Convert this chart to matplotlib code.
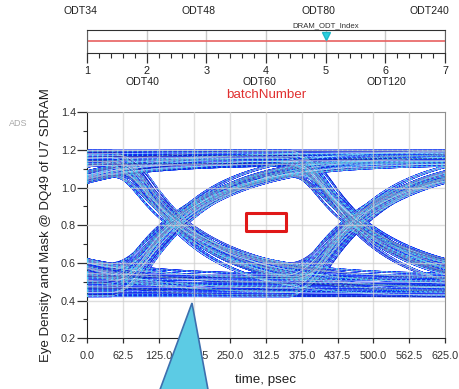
import numpy as np
import matplotlib
matplotlib.use("Agg")
import matplotlib.pyplot as plt
from matplotlib.patches import Rectangle, Polygon
from matplotlib.ticker import MultipleLocator, FormatStrFormatter

plt.rcParams['font.family'] = ['Liberation Sans', 'DejaVu Sans']

# ---- sweep slider (batchNumber -> ODT setting) ----
batch_numbers = [1, 2, 3, 4, 5, 6, 7]
odt_names = ["ODT34", "ODT40", "ODT48", "ODT60", "ODT80", "ODT120", "ODT240"]
odt_label_x_px = [80, 142, 199, 259, 318, 386, 429]
selected_batch = 5

# ---- eye diagram data ----
unit_interval_ps = 312.5
time_ticks = [0.0, 62.5, 125.0, 187.5, 250.0, 312.5, 375.0, 437.5, 500.0, 562.5, 625.0]
volt_ticks = [0.2, 0.4, 0.6, 0.8, 1.0, 1.2, 1.4]

# DQ49 bit stream used to build the eye
dq_bits = [0, 1, 1, 0, 1, 0, 0, 0, 1, 1, 1, 0, 0, 1, 0, 1, 1, 1, 1, 0, 1, 0, 1, 0,
           0, 1, 1, 0, 0, 0, 0, 1, 0, 1, 1, 0, 1, 1, 1, 0, 0, 1, 1, 1, 1, 1, 0, 0,
           0, 1, 0, 0, 1, 0, 1, 0, 1, 1, 0, 0, 1, 0, 0, 0, 1, 1, 0, 1]
# per-lane settled levels (V), edge time constants (ps) and timing skew (ps)
high_levels = [1.198, 1.19, 1.182, 1.172, 1.163, 1.155, 1.146, 1.138, 1.13, 1.122]
low_levels = [0.422, 0.432, 0.444, 0.456, 0.468, 0.48, 0.494, 0.508, 0.522, 0.536]
rc_tau_ps = [112, 140, 120, 132, 116, 145, 125, 136, 118, 128]
lane_skew_ps = [-9, 14, 0, 20, -5, 8, -13, 17, 5, -2]

# eye mask (time window, voltage window)
mask_time = [277.5, 347.5]
mask_volt = [0.77, 0.865]

RISE_PS = 60.0
DT = 2.5


def step_response(x, tau):
    """Ramp-driven RC step response."""
    def g(u):
        u = np.maximum(u, 0.0)
        return u - tau * (1.0 - np.exp(-u / tau))
    return (g(x) - g(x - RISE_PS)) / RISE_PS


def waveform(bits, hi, lo, tau, skew):
    t = np.arange(0, len(bits) * unit_interval_ps, DT)
    lead = tau * np.log(2.0) + RISE_PS / 2.0 - skew
    frac = np.full_like(t, float(bits[0]))
    for k in range(1, len(bits)):
        d = bits[k] - bits[k - 1]
        if d:
            t0 = k * unit_interval_ps - unit_interval_ps / 2.0 - lead
            frac += d * step_response(t - t0, tau)
    return t, lo + (hi - lo) * frac


W, H = 459.0, 389.0
fig = plt.figure(figsize=(W / 100, H / 100), dpi=100)

# ---------- slider axes ----------
sax = fig.add_axes([0.1895, 0.8638, 0.78, 0.0591])
sax.set_xlim(batch_numbers[0], batch_numbers[-1])
sax.set_ylim(0, 1)
sax.axhline(0.5, color="#e86060", lw=1.2)
sax.plot([selected_batch], [0.72], marker="v", color="#2ad0e0", ms=5.5, mec="#20b8c8")
sax.text(selected_batch, 1.04, "DRAM_ODT_Index", ha="center", va="bottom",
         fontsize=5.6, color="#303030")
sax.set_xticks(batch_numbers)
sax.xaxis.set_minor_locator(MultipleLocator(0.2))
sax.set_yticks([])
sax.grid(axis="x", color="#c8c8c8", lw=1.0)
sax.tick_params(axis="x", which="major", length=7.2, width=0.9, pad=2, labelsize=7.8,
                color="#303030", labelcolor="#202020")
sax.tick_params(axis="x", which="minor", length=3.6, width=0.8, color="#303030")
for sp in ["top", "bottom"]:
    sax.spines[sp].set_color("#303030")
for sp in ["left", "right"]:
    sax.spines[sp].set_color("#606060")
for i, (xp, name) in enumerate(zip(odt_label_x_px, odt_names)):
    yf = 1 - 11 / H if i % 2 == 0 else 1 - 82 / H
    fig.text(xp / W, yf, name, ha="center", va="center", fontsize=7.6, color="#202020")
fig.text(266 / W, 1 - 95 / H, "batchNumber", ha="center", va="center", fontsize=9.6,
         color="#e03030")

# ---------- eye axes ----------
ax = fig.add_axes([0.1895, 0.1303, 0.78, 0.581])
ax.set_xlim(time_ticks[0], time_ticks[-1])
ax.set_ylim(volt_ticks[0], volt_ticks[-1])

blue = "#0e2ef8"
cyan = "#44d0f6"
navy = "#1c1c90"
n = 0
for hi, lo, tau, sk in zip(high_levels, low_levels, rc_tau_ps, lane_skew_ps):
    t, v = waveform(dq_bits, hi, lo, tau, sk)
    span = int(round(2 * unit_interval_ps / DT)) + 1
    for k in range(2, len(dq_bits) - 3):
        i0 = int(round(k * unit_interval_ps / DT))
        tt = t[i0:i0 + span] - t[i0]
        vv = v[i0:i0 + span]
        ax.plot(tt, vv, color=blue, lw=1.0, alpha=0.95, zorder=2)
        if n % 5 == 0:
            ax.plot(tt, vv, color=cyan, lw=0.9, ls=(0, (1.0, 3.0)), zorder=3)
        elif n % 5 == 2:
            ax.plot(tt, vv, color="white", lw=0.3, alpha=0.7, zorder=3)
        elif n % 5 == 4:
            ax.plot(tt, vv, color=navy, lw=0.35, alpha=0.5, zorder=3)
        n += 1

ax.add_patch(Rectangle((mask_time[0], mask_volt[0]), mask_time[1] - mask_time[0],
                       mask_volt[1] - mask_volt[0], fill=False, ec="#e01818",
                       lw=2.2, zorder=6, joinstyle="round"))

ax.set_xticks(time_ticks)
ax.set_yticks(volt_ticks)
ax.yaxis.set_minor_locator(MultipleLocator(0.1))
ax.xaxis.set_major_formatter(FormatStrFormatter("%.1f"))
ax.yaxis.set_major_formatter(FormatStrFormatter("%.1f"))
# light grid drawn over the traces
for xv in time_ticks[1:-1]:
    ax.axvline(xv, color="#d0d0d0", lw=1.0, alpha=0.7, zorder=4)
for yv in volt_ticks[1:-1]:
    ax.axhline(yv, color="#d0d0d0", lw=1.0, alpha=0.7, zorder=4)
ax.tick_params(axis="y", which="major", length=7.2, width=0.9, pad=0.8, labelsize=7.8,
               color="#303030", labelcolor="#303030")
ax.tick_params(axis="y", which="minor", length=3.1, width=0.8, color="#303030")
ax.tick_params(axis="x", which="major", length=3.6, width=0.9, pad=5.8, labelsize=7.8,
               color="#303030", labelcolor="#303030")
for sp in ["left", "bottom"]:
    ax.spines[sp].set_color("#202020")
for sp in ["top", "right"]:
    ax.spines[sp].set_color("#909090")
ax.set_xlabel("time, psec", fontsize=9.6, color="#202020", labelpad=9)
ax.set_ylabel("Eye Density and Mask @ DQ49 of U7 SDRAM", fontsize=9.5,
              color="#202020", labelpad=6)

fig.text(18 / W, 1 - 123 / H, "ADS", ha="center", va="center", fontsize=6.5,
         color="#a8a8a8")

# callout pointer
pts = [(192 / W, 1 - 303 / H), (158 / W, 1 - 395 / H), (209 / W, 1 - 395 / H)]
fig.add_artist(Polygon(pts, closed=True, fc="#5ccbe4", ec="#3d6fae", lw=1.2,
                       zorder=10, transform=fig.transFigure))

fig.savefig("out.png", dpi=100)
